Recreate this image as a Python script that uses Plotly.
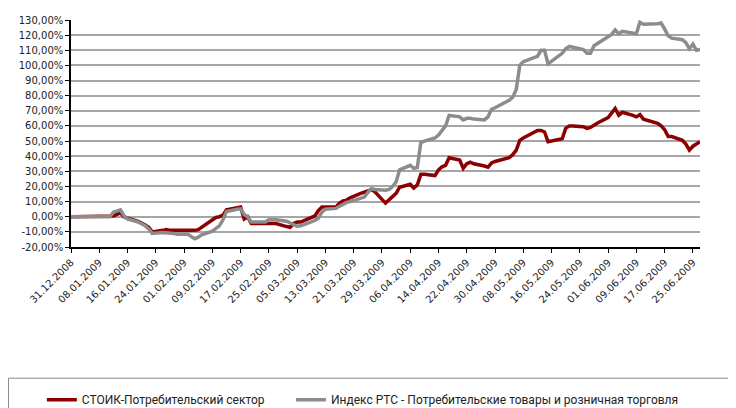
import plotly.graph_objects as go

dates = ["2008-12-31", "2009-01-11", "2009-01-12", "2009-01-13", "2009-01-14", "2009-01-15", "2009-01-16",
         "2009-01-19", "2009-01-20", "2009-01-21", "2009-01-22", "2009-01-23", "2009-01-26", "2009-01-27",
         "2009-01-28", "2009-01-29", "2009-01-30", "2009-02-02", "2009-02-03", "2009-02-04", "2009-02-05",
         "2009-02-06", "2009-02-09", "2009-02-10", "2009-02-11", "2009-02-12", "2009-02-13", "2009-02-16",
         "2009-02-17", "2009-02-18", "2009-02-19", "2009-02-20", "2009-02-24", "2009-02-25", "2009-02-26",
         "2009-02-27", "2009-03-02", "2009-03-03", "2009-03-04", "2009-03-05", "2009-03-06", "2009-03-10",
         "2009-03-11", "2009-03-12", "2009-03-13", "2009-03-16", "2009-03-17", "2009-03-18", "2009-03-19",
         "2009-03-20", "2009-03-23", "2009-03-24", "2009-03-25", "2009-03-26", "2009-03-27", "2009-03-30",
         "2009-03-31", "2009-04-01", "2009-04-02", "2009-04-03", "2009-04-06", "2009-04-07", "2009-04-08",
         "2009-04-09", "2009-04-10", "2009-04-13", "2009-04-14", "2009-04-15", "2009-04-16", "2009-04-17",
         "2009-04-20", "2009-04-21", "2009-04-22", "2009-04-23", "2009-04-24", "2009-04-27", "2009-04-28",
         "2009-04-29", "2009-04-30", "2009-05-04", "2009-05-05", "2009-05-06", "2009-05-07", "2009-05-08",
         "2009-05-12", "2009-05-13", "2009-05-14", "2009-05-15", "2009-05-18", "2009-05-19", "2009-05-20",
         "2009-05-21", "2009-05-22", "2009-05-25", "2009-05-26", "2009-05-27", "2009-05-28", "2009-05-29",
         "2009-06-01", "2009-06-02", "2009-06-03", "2009-06-04", "2009-06-05", "2009-06-08", "2009-06-09",
         "2009-06-10", "2009-06-11", "2009-06-15", "2009-06-16", "2009-06-17", "2009-06-18", "2009-06-19",
         "2009-06-22", "2009-06-23", "2009-06-24", "2009-06-25", "2009-06-26", "2009-06-27"]

stoik = [0, 0, 0.5, 1.5, 2.5, 0, -1,
         -3, -4, -5.5, -7, -10, -9, -8.5,
         -9, -9, -9.5, -9.5, -9, -9, -8.5,
         -7, -2, -0.5, 0, 1, 4.5, 6,
         6.4, -1.5, 0, -4.5, -4.5, -4.5, -4.5,
         -4.5, -6.5, -7, -4.5, -3.5, -3.5, 0.5,
         4, 6.5, 6.5, 6.5, 9, 10.5, 11,
         12.5, 15.5, 16, 17, 18, 16.5, 9,
         11, 13, 15.5, 19.5, 21.5, 19, 21,
         28, 28, 27.2, 31, 33, 34, 39,
         37.5, 32, 35, 36, 35, 33.5, 32.7,
         35.5, 36.5, 39, 41, 44, 50.5, 52,
         57, 57, 56, 49.6, 51, 51.5, 58.4,
         60, 60, 59.5, 58.4, 59, 60.5, 62,
         65.5, 68.5, 71.5, 67, 69, 67, 66,
         67.5, 64.5, 61.7, 60, 57.5, 53, 53,
         50.5, 48, 44, 46.6, 48, 49.6]

rts = [0, 0, 3.0, 3.5, 4.5, 0.5, -1.5,
       -3.5, -4.5, -6, -8, -11, -10.5, -10.5,
       -11, -11, -11.5, -11.5, -13, -14.5, -13.5,
       -12, -9.5, -7.5, -6, -2, 3.5, 5,
       5.2, 1.5, 0, -3.5, -3.5, -2, -2,
       -2, -3, -4, -5.5, -6.3, -6, -2.5,
       -1, 3, 5, 5.5, 7, 8.5, 9.5,
       10, 12, 13, 16, 18.5, 18, 17.5,
       18, 20, 23, 31, 34, 32, 32.5,
       49, 50, 52, 54, 57, 60, 67,
       66, 64, 65, 65, 64.5, 64, 66,
       71, 72, 77, 79, 84, 100, 102.5,
       106, 110, 110, 101, 106, 108, 111,
       112.5, 112, 110.5, 108, 108, 113, 114.5,
       118.5, 120.5, 123.5, 121, 122.5, 121.5, 121,
       128.5, 127.2, 127.5, 128, 124, 119.5, 118,
       117, 115, 111, 114, 110, 110.5]

tick_dates = ["2008-12-31", "2009-01-08", "2009-01-16", "2009-01-24", "2009-02-01", "2009-02-09",
              "2009-02-17", "2009-02-25", "2009-03-05", "2009-03-13", "2009-03-21", "2009-03-29",
              "2009-04-06", "2009-04-14", "2009-04-22", "2009-04-30", "2009-05-08", "2009-05-16",
              "2009-05-24", "2009-06-01", "2009-06-09", "2009-06-17", "2009-06-25"]
tick_labels = ["31.12.2008", "08.01.2009", "16.01.2009", "24.01.2009", "01.02.2009", "09.02.2009",
               "17.02.2009", "25.02.2009", "05.03.2009", "13.03.2009", "21.03.2009", "29.03.2009",
               "06.04.2009", "14.04.2009", "22.04.2009", "30.04.2009", "08.05.2009", "16.05.2009",
               "24.05.2009", "01.06.2009", "09.06.2009", "17.06.2009", "25.06.2009"]

y_ticks = [-20, -10, 0, 10, 20, 30, 40, 50, 60, 70, 80, 90, 100, 110, 120, 130]
y_labels = ["-20,00%", "-10,00%", "0,00%", "10,00%", "20,00%", "30,00%", "40,00%", "50,00%",
            "60,00%", "70,00%", "80,00%", "90,00%", "100,00%", "110,00%", "120,00%", "130,00%"]

names = ["СТОИК-Потребительский сектор",
         "Индекс РТС - Потребительские товары и розничная торговля"]

fig = go.Figure()
fig.add_trace(go.Scatter(x=dates, y=stoik, mode="lines", name=names[0], legend="legend",
                         line=dict(color="#8B0000", width=3.5)))
fig.add_trace(go.Scatter(x=dates, y=rts, mode="lines", name=names[1], legend="legend2",
                         line=dict(color="#8C8C8C", width=3.5)))

legend_font = dict(family="Roboto", size=12, color="#222222")
fig.update_layout(
    width=736, height=408,
    margin=dict(l=63, r=44, t=11.5, b=168.7, autoexpand=False),
    paper_bgcolor="white", plot_bgcolor="white",
    font=dict(family="DejaVu Sans", size=10, color="#222222"),
    showlegend=True,
    legend=dict(orientation="h", xref="container", yref="container",
                x=0.046, y=0.04, xanchor="left", yanchor="middle",
                font=legend_font, bgcolor="rgba(0,0,0,0)", borderwidth=0),
    legend2=dict(orientation="h", xref="container", yref="container",
                 x=0.3845, y=0.04, xanchor="left", yanchor="middle",
                 font=legend_font, bgcolor="rgba(0,0,0,0)", borderwidth=0),
    shapes=[dict(type="rect", xref="paper", yref="paper",
                 x0=-0.0994, x1=1.0477, y0=-0.8, y1=-0.578,
                 line=dict(color="#8A8A8A", width=1), fillcolor="rgba(0,0,0,0)")],
)
fig.update_xaxes(type="date", range=["2008-12-31", "2009-06-27"],
                 tickmode="array", tickvals=tick_dates, ticktext=tick_labels, tickangle=-45,
                 showgrid=False, showline=True, linecolor="black", linewidth=1.5,
                 ticks="outside", ticklen=4, tickcolor="black", zeroline=False,
                 automargin=False)
fig.update_yaxes(range=[-20, 130], tickmode="array", tickvals=y_ticks, ticktext=y_labels,
                 showgrid=True, gridcolor="#A6A6A6", gridwidth=2,
                 showline=True, linecolor="black", linewidth=1.5,
                 ticks="outside", ticklen=4, tickcolor="black", zeroline=False,
                 automargin=False)

fig.write_html("out.html")
